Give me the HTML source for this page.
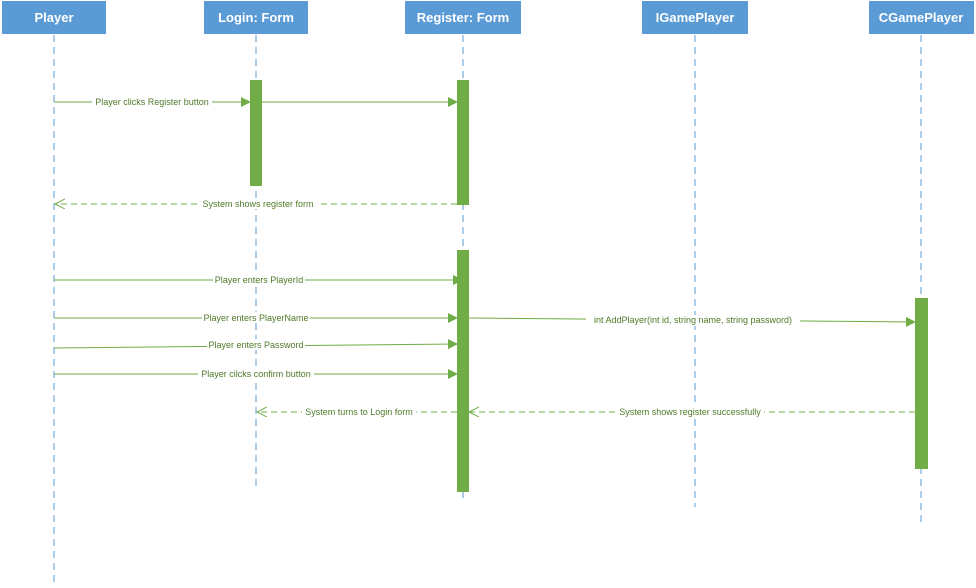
<!DOCTYPE html>
<html><head><style>
body{margin:0;background:#fff}
svg text{font-family:"Liberation Sans",sans-serif}
</style></head><body>
<svg width="976" height="583" xmlns="http://www.w3.org/2000/svg">
<defs>
<marker id="f" markerWidth="10" markerHeight="10" refX="9" refY="5" orient="auto" markerUnits="userSpaceOnUse"><path d="M0,0 L10,5 L0,10z" fill="#70ad47"/></marker>
<marker id="o" markerWidth="12" markerHeight="12" refX="10" refY="5" orient="auto" markerUnits="userSpaceOnUse"><path d="M0,0 L10,5 L0,10" fill="none" stroke="#70ad47"/></marker>
</defs>
<g fill="#5b9bd5">
<rect x="2" y="1" width="104" height="33"/>
<rect x="204" y="1" width="104" height="33"/>
<rect x="405" y="1" width="116" height="33"/>
<rect x="642" y="1" width="106" height="33"/>
<rect x="869" y="1" width="105" height="33"/>
</g>
<g fill="#fff" font-size="13" font-weight="bold" text-anchor="middle">
<text x="54" y="22">Player</text>
<text x="256" y="22">Login: Form</text>
<text x="463" y="22">Register: Form</text>
<text x="695" y="22">IGamePlayer</text>
<text x="921" y="22">CGamePlayer</text>
</g>
<g stroke="#5b9bd5" stroke-dasharray="7,5" stroke-width="1">
<line x1="54" y1="35" x2="54" y2="583"/>
<line x1="256" y1="35" x2="256" y2="487"/>
<line x1="463" y1="35" x2="463" y2="498"/>
<line x1="695" y1="35" x2="695" y2="507"/>
<line x1="921" y1="35" x2="921" y2="522"/>
</g>
<g fill="#70ad47">
<rect x="250" y="80" width="12" height="106"/>
<rect x="457" y="80" width="12" height="125"/>
<rect x="457" y="250" width="12" height="242"/>
<rect x="915" y="298" width="13" height="171"/>
</g>
<g stroke="#70ad47" stroke-width="1" fill="none">
<line x1="54" y1="102" x2="250" y2="102" marker-end="url(#f)"/>
<line x1="262" y1="102" x2="457" y2="102" marker-end="url(#f)"/>
<line x1="457" y1="204" x2="55" y2="204" stroke-dasharray="6,4" marker-end="url(#o)"/>
<line x1="54" y1="280" x2="462" y2="280" marker-end="url(#f)"/>
<line x1="54" y1="318" x2="457" y2="318" marker-end="url(#f)"/>
<line x1="469" y1="318" x2="915" y2="322" marker-end="url(#f)"/>
<line x1="54" y1="348" x2="457" y2="344" marker-end="url(#f)"/>
<line x1="54" y1="374" x2="457" y2="374" marker-end="url(#f)"/>
<line x1="915" y1="412" x2="469" y2="412" stroke-dasharray="6,4" marker-end="url(#o)"/>
<line x1="457" y1="412" x2="257" y2="412" stroke-dasharray="6,4" marker-end="url(#o)"/>
</g>
<g font-size="9" fill="#4f7a28" text-anchor="middle">
<g fill="#fff"><rect x="92" y="96" width="120" height="11"/><rect x="199" y="198" width="118" height="11"/><rect x="213" y="274" width="92" height="11"/><rect x="202" y="312" width="108" height="11"/><rect x="207" y="339" width="98" height="11"/><rect x="198" y="368" width="116" height="11"/><rect x="302" y="406" width="114" height="11"/><rect x="586" y="315" width="214" height="11"/><rect x="616" y="406" width="148" height="11"/></g>
<text x="152" y="105">Player clicks Register button</text>
<text x="258" y="207">System shows register form</text>
<text x="259" y="283">Player enters PlayerId</text>
<text x="256" y="321">Player enters PlayerName</text>
<text x="256" y="348">Player enters Password</text>
<text x="256" y="377">Player cilcks confirm button</text>
<text x="359" y="415">System turns to Login form</text>
<text x="693" y="323">int AddPlayer(int id, string name, string password)</text>
<text x="690" y="415">System shows register successfully</text>
</g>
</svg>
</body></html>
